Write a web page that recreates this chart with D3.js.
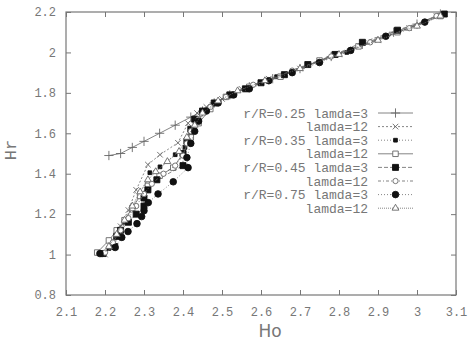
<!DOCTYPE html>
<html>
<head>
<meta charset="utf-8">
<script src="https://cdn.jsdelivr.net/npm/d3@7"></script>
<style>
body { margin: 0; background: #fff; }
svg text { font-family: "Liberation Mono", "DejaVu Sans Mono", monospace; fill: #777; }
</style>
</head>
<body>
<svg class="chart" width="472" height="340"></svg>
<script>
var xTicks = [2.1, 2.2, 2.3, 2.4, 2.5, 2.6, 2.7, 2.8, 2.9, 3, 3.1];
var yTicks = [0.8, 1, 1.2, 1.4, 1.6, 1.8, 2, 2.2];

var legendLabels = ["r/R=0.25 lamda=3", "lamda=12", "r/R=0.35 lamda=3", "lamda=12",
                    "r/R=0.45 lamda=3", "lamda=12", "r/R=0.75 lamda=3", "lamda=12"];

// [Ho, Hr] pairs
var s025l3 = [[2.21,1.49],[2.24,1.50],[2.27,1.53],[2.30,1.56],[2.34,1.60],[2.38,1.64],[2.42,1.68],[2.45,1.71],
  [2.48,1.75],[2.52,1.79],[2.57,1.83],[2.63,1.87],[2.70,1.92],[2.78,1.98],[2.86,2.04],[2.94,2.10],[3.00,2.14],[3.06,2.19]];
var s025l12 = [[2.20,1.00],[2.22,1.07],[2.24,1.14],[2.26,1.22],[2.28,1.32],[2.31,1.445],[2.341,1.494],[2.387,1.553],
  [2.413,1.65],[2.436,1.70],[2.46,1.73],[2.50,1.77],[2.55,1.82],[2.62,1.87],[2.70,1.92],[2.80,1.99],
  [2.90,2.06],[2.98,2.12],[3.05,2.18]];
var s035l3 = [[2.21,1.03],[2.23,1.09],[2.25,1.16],[2.27,1.23],[2.29,1.30],[2.315,1.405],[2.341,1.434],[2.38,1.494],
  [2.405,1.53],[2.42,1.60],[2.44,1.67],[2.47,1.73],[2.51,1.78],[2.56,1.82],[2.64,1.88],[2.72,1.94],[2.82,2.00],
  [2.92,2.08],[3.02,2.15]];
var s035l12 = [[2.18,1.01],[2.21,1.07],[2.23,1.12],[2.25,1.17],[2.27,1.23],[2.29,1.29],[2.31,1.34],[2.34,1.39],
  [2.375,1.43],[2.40,1.50],[2.42,1.58],[2.44,1.65],[2.47,1.72],[2.51,1.78],[2.57,1.83],[2.65,1.88],[2.75,1.96],
  [2.85,2.03],[2.95,2.10],[3.06,2.18]];
var s045l3 = [[2.195,1.005],[2.225,1.04],[2.23,1.09],[2.24,1.12],[2.26,1.16],[2.28,1.20],[2.30,1.24],[2.30,1.28],
  [2.31,1.32],[2.333,1.37],[2.40,1.44],[2.40,1.50],[2.41,1.56],[2.42,1.62],[2.43,1.67],[2.45,1.71],[2.48,1.75],
  [2.52,1.79],[2.56,1.82],[2.60,1.85],[2.66,1.89],[2.72,1.94],[2.79,1.99],[2.86,2.05],[2.95,2.11],[3.07,2.19]];
var s045l12 = [[2.20,1.01],[2.22,1.06],[2.24,1.12],[2.26,1.18],[2.28,1.24],[2.30,1.30],[2.32,1.35],[2.35,1.40],
  [2.38,1.44],[2.40,1.49],[2.41,1.55],[2.42,1.61],[2.44,1.67],[2.47,1.73],[2.51,1.78],[2.58,1.84],[2.68,1.91],
  [2.78,1.98],[2.88,2.05],[2.98,2.12],[3.05,2.18]];
var s075l3 = [[2.187,1.005],[2.226,1.035],[2.243,1.085],[2.259,1.114],[2.282,1.153],[2.294,1.188],[2.30,1.217],
  [2.311,1.257],[2.336,1.30],[2.375,1.36],[2.413,1.43],[2.41,1.48],[2.42,1.55],[2.43,1.61],[2.44,1.66],[2.46,1.71],
  [2.49,1.75],[2.53,1.79],[2.57,1.82],[2.62,1.86],[2.68,1.90],[2.75,1.95],[2.83,2.01],[2.92,2.08],[3.02,2.15]];
var s075l12 = [[2.21,1.04],[2.23,1.10],[2.25,1.17],[2.27,1.24],[2.29,1.31],[2.31,1.37],[2.33,1.41],[2.36,1.46],
  [2.39,1.51],[2.41,1.58],[2.43,1.64],[2.45,1.70],[2.49,1.76],[2.54,1.81],[2.61,1.86],[2.70,1.92],[2.80,1.99],
  [2.90,2.06],[3.00,2.13],[3.06,2.18]];

var allSeries = [s025l3, s025l12, s035l3, s035l12, s045l3, s045l12, s075l3, s075l12];

// look of each series: marker, filled or not, dash
var styles = [
  {sym: d3.symbolPlus, size: 30, fill: false, dash: null},
  {sym: d3.symbolTimes, size: 22, fill: false, dash: "2,2"},
  {sym: d3.symbolSquare, size: 14, fill: true, dash: "1,2"},
  {sym: d3.symbolSquare, size: 30, fill: false, dash: null},
  {sym: d3.symbolSquare, size: 36, fill: true, dash: "4,2"},
  {sym: d3.symbolCircle, size: 22, fill: false, dash: "3,2,1,2"},
  {sym: d3.symbolCircle, size: 34, fill: true, dash: "1,2"},
  {sym: d3.symbolTriangle, size: 20, fill: false, dash: "1,1"}
];

var margin = {top: 12, right: 16, bottom: 45, left: 66};
var width = 456 - margin.left, height = 295 - margin.top;

var x = d3.scaleLinear().domain([2.1, 3.1]).range([0, width]);
var y = d3.scaleLinear().domain([0.8, 2.2]).range([height, 0]);

var svg = d3.select(".chart");
var g = svg.append("g")
    .attr("transform", "translate(" + margin.left + "," + margin.top + ")");

function styleAxis(ax) {
    ax.select(".domain").remove();
    ax.selectAll(".tick line").attr("stroke", "#777");
    ax.selectAll(".tick text").attr("fill", "#777").style("font-size", "12px")
        .style("font-family", "Liberation Mono, monospace");
}

// ticks point inward on every side
g.append("g").attr("transform", "translate(0," + height + ")")
    .call(d3.axisBottom(x).tickValues(xTicks).tickSize(-5).tickPadding(12).tickFormat(d3.format("")))
    .call(styleAxis);
g.append("g")
    .call(d3.axisTop(x).tickValues(xTicks).tickSize(-5).tickFormat(""))
    .call(styleAxis);
g.append("g")
    .call(d3.axisLeft(y).tickValues(yTicks).tickSize(-5).tickPadding(10).tickFormat(d3.format("")))
    .call(styleAxis);
g.append("g").attr("transform", "translate(" + width + ",0)")
    .call(d3.axisRight(y).tickValues(yTicks).tickSize(-5).tickFormat(""))
    .call(styleAxis);

g.append("rect")
    .attr("width", width).attr("height", height)
    .attr("fill", "none").attr("stroke", "#777").attr("stroke-width", 1.2);

var line = d3.line()
    .x(function(d) { return x(d[0]); })
    .y(function(d) { return y(d[1]); });

function drawMarker(sel, st) {
    var stroked = (st.sym === d3.symbolPlus || st.sym === d3.symbolTimes);
    sel.attr("d", d3.symbol().type(st.sym).size(st.size))
        .attr("fill", st.fill ? "#111" : (stroked ? "none" : "#fff"))
        .attr("stroke", st.fill ? "#111" : "#666")
        .attr("stroke-width", 0.9);
}

allSeries.forEach(function(data, i) {
    var st = styles[i];
    g.append("path")
        .datum(data)
        .attr("fill", "none")
        .attr("stroke", "#666")
        .attr("stroke-width", 0.8)
        .attr("stroke-dasharray", st.dash)
        .attr("d", line);
    g.selectAll(".pt" + i)
        .data(data)
        .enter().append("path")
        .attr("class", "pt" + i)
        .attr("transform", function(d) { return "translate(" + x(d[0]) + "," + y(d[1]) + ")"; })
        .call(drawMarker, st);
});

// legend
var legend = svg.append("g").attr("transform", "translate(0,113)");
legendLabels.forEach(function(lbl, i) {
    var st = styles[i];
    var row = legend.append("g").attr("transform", "translate(0," + (i * 13.6) + ")");
    row.append("text")
        .attr("x", 368).attr("y", 0).attr("dy", "0.35em")
        .attr("text-anchor", "end")
        .style("font-size", "13px")
        .text(lbl);
    row.append("line")
        .attr("x1", 378).attr("x2", 413)
        .attr("stroke", "#666").attr("stroke-width", 0.8)
        .attr("stroke-dasharray", st.dash);
    row.append("path")
        .attr("transform", "translate(395.5,0)")
        .call(drawMarker, st);
});

// axis titles
svg.append("text")
    .attr("transform", "translate(16,150) rotate(-90)")
    .attr("text-anchor", "middle")
    .style("font-size", "17px")
    .text("Hr");
svg.append("text")
    .attr("x", 270).attr("y", 337)
    .attr("text-anchor", "middle")
    .style("font-size", "17px")
    .style("font-family", "DejaVu Sans, sans-serif")
    .text("Ho");
</script>
</body>
</html>
